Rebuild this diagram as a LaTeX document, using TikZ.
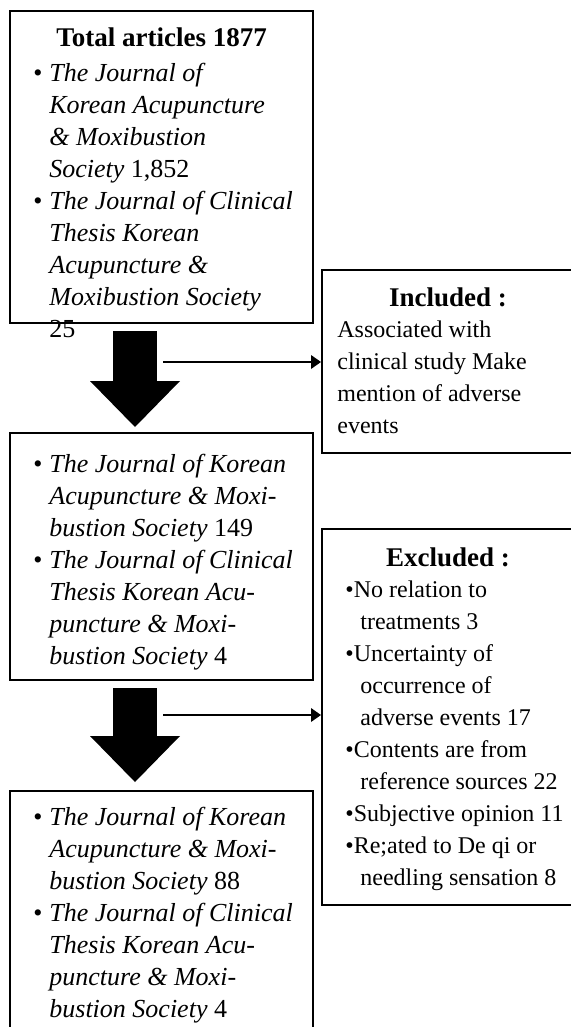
\documentclass[tikz,border=0pt]{standalone}
\usepackage{fontspec}
\setmainfont{Liberation Serif}
\usetikzlibrary{arrows.meta, positioning}
\newcommand{\jbul}{\makebox[8pt][l]{•}}
\newcommand{\jgap}{\hspace*{8pt}}
\newcommand{\egap}{\hspace*{7.5pt}}

\begin{document}
\begin{tikzpicture}[
  x=0.5pt, y=-0.5pt,
  box/.style={
    draw,
    line width=1pt,
    minimum width=151.5pt,
    inner sep=0pt,
    anchor=north west
  },
  headtext/.style={
    font=\fontsize{13.5}{16}\selectfont\bfseries,
    inner sep=0pt
  },
  leftbody/.style={
    font=\fontsize{13}{16}\selectfont,
    inner sep=0pt,
    align=left
  },
  rightbody/.style={
    font=\fontsize{12}{16}\selectfont,
    inner sep=0pt,
    align=left
  },
  bigarr/.style={line width=22pt, -{Triangle[length=23pt, width=45pt, line width=0pt]}},
  thinarr/.style={line width=1.4pt, -{Triangle[length=5pt, width=7pt, line width=0pt]}},
]

\useasboundingbox (0,0) rectangle (571,1027);

% left column
\node[box, minimum height=156pt] (total) at (9,10) {};
\node[box, minimum height=123.5pt, below=54pt of total] (sel) {};
\node[box, minimum height=123pt, below=54.5pt of sel] (final) {};

% right column
\node[box, minimum width=126pt, minimum height=91.5pt] (incl) at (321,269) {};
\node[box, minimum width=126pt, minimum height=188pt] (excl) at (321,528) {};

% texts
\node[headtext, below=6.8pt of total.north] (totalhead) {\strut Total articles 1877};
\node[leftbody, below right=24.3pt and 12pt of total.north west] (totalbody) {%
  \strut\jbul\itshape The Journal of\\
  \jgap\itshape Korean Acupuncture\\
  \jgap\itshape\& Moxibustion\\
  \jgap\textit{Society} 1,852\\
  \jbul\itshape The Journal of Clinical\\
  \jgap\itshape Thesis Korean\\
  \jgap\itshape Acupuncture \&\\
  \jgap\itshape Moxibustion Society\\
  \jgap 25};

\node[leftbody, below right=8.8pt and 12pt of sel.north west] (selbody) {%
  \strut\jbul\itshape The Journal of Korean\\
  \jgap\itshape Acupuncture \& Moxi-\\
  \jgap\textit{bustion Society} 149\\
  \jbul\itshape The Journal of Clinical\\
  \jgap\itshape Thesis Korean Acu-\\
  \jgap\itshape puncture \& Moxi-\\
  \jgap\textit{bustion Society} 4};

\node[leftbody, below right=6.5pt and 12pt of final.north west] (finalbody) {%
  \strut\jbul\itshape The Journal of Korean\\
  \jgap\itshape Acupuncture \& Moxi-\\
  \jgap\textit{bustion Society} 88\\
  \jbul\itshape The Journal of Clinical\\
  \jgap\itshape Thesis Korean Acu-\\
  \jgap\itshape puncture \& Moxi-\\
  \jgap\textit{bustion Society} 4};

\node[headtext, below=7.3pt of incl.north] (inclhead) {\strut Included :};
\node[rightbody, below right=22.8pt and 8pt of incl.north west] (inclbody) {%
  \strut Associated with\\
  clinical study Make\\
  mention of adverse\\
  events};

\node[headtext, below=7.8pt of excl.north] (exclhead) {\strut Excluded :};
\node[rightbody, below right=23.3pt and 12pt of excl.north west] (exclbody) {%
  \strut •No relation to\\
  \egap treatments 3\\
  •Uncertainty of\\
  \egap occurrence of\\
  \egap adverse events 17\\
  •Contents are from\\
  \egap reference sources 22\\
  •Subjective opinion 11\\
  •Re;ated to De qi or\\
  \egap needling sensation 8};

% arrows
\draw[bigarr] ([xshift=-13.25pt, yshift=-3.5pt]total.south) -- ([xshift=-13.25pt, yshift=2.5pt]sel.north);
\draw[bigarr] ([xshift=-13.25pt, yshift=-3.5pt]sel.south) -- ([xshift=-13.25pt, yshift=4pt]final.north);

\coordinate (fork1) at (163,362);
\coordinate (fork2) at (163,715);
\draw[thinarr] (fork1) -- (fork1 -| incl.west);
\draw[thinarr] (fork2) -- (fork2 -| excl.west);

\end{tikzpicture}
\end{document}
